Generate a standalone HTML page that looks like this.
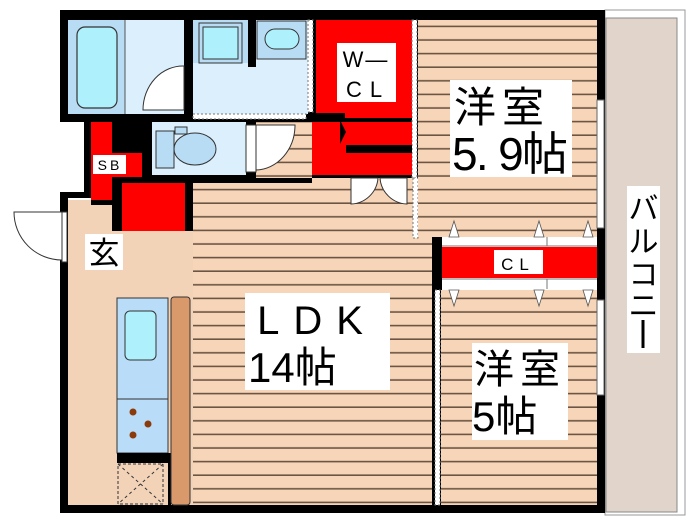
<!DOCTYPE html>
<html><head><meta charset="utf-8"><style>
html,body{margin:0;padding:0;background:#fff}
svg{display:block}
text{font-family:"Liberation Sans","Noto Sans CJK JP",sans-serif;fill:#000}
</style></head><body>
<svg width="700" height="525" viewBox="0 0 700 525" xmlns="http://www.w3.org/2000/svg">
<defs>
<pattern id="fl" x="0" y="0" width="10" height="13.6" patternUnits="userSpaceOnUse">
<rect width="10" height="13.6" fill="#f6d5b8"/>
<rect y="12" width="10" height="1.6" fill="#6d5543"/>
</pattern>
</defs>
<!-- balcony -->
<rect x="605" y="10" width="80" height="505" fill="#fff" stroke="#999" stroke-width="1"/>
<rect x="606" y="18" width="71" height="494" fill="#e0d4cb" stroke="#888" stroke-width="1"/>
<rect x="627" y="186" width="33" height="167" fill="#fff"/>
<text x="643.5" y="219" font-size="30" text-anchor="middle">バ</text>
<text x="643.5" y="252" font-size="30" text-anchor="middle">ル</text>
<text x="643.5" y="285" font-size="30" text-anchor="middle">コ</text>
<text x="643.5" y="316" font-size="30" text-anchor="middle">ニ</text>
<rect x="641.5" y="320" width="3" height="28" fill="#000"/>

<path d="M60 10 H605 V513 H60 Z" fill="#000"/>
<path d="M0 122 H91 V200 H0 Z" fill="#fff"/>
<path d="M84 122 H91 V198 H68 V205 H60 V192 H84 Z" fill="#000"/>

<!-- bath -->
<rect x="68" y="20" width="57" height="94" fill="#b9dcf5"/>
<rect x="77" y="27" width="40" height="81" rx="8" fill="#aef0fb" stroke="#333" stroke-width="1.2"/>
<rect x="125" y="20" width="59" height="94" fill="#dbeffd"/>
<line x1="125" y1="20" x2="125" y2="114" stroke="#555"/>
<path d="M184 66 A40 44 0 0 0 143 110 H184 Z" fill="#fff" stroke="#333"/>
<!-- washroom -->
<rect x="193" y="20" width="115" height="94" fill="#dbeffd"/>
<rect x="193" y="20" width="55" height="43" fill="#b9dcf5"/>
<rect x="199" y="23" width="43" height="40" fill="#b9dcf5" stroke="#333"/>
<rect x="203" y="27" width="35" height="32" fill="#aef0fb" stroke="#333"/>
<rect x="248" y="20" width="8" height="47" fill="#000"/>
<rect x="257" y="21" width="49" height="38" fill="#b9dcf5" stroke="#333"/>
<rect x="265" y="29" width="34" height="20" rx="10" fill="#aef0fb" stroke="#333"/>
<rect x="308" y="20" width="5" height="92" fill="#fff" stroke="#777" stroke-dasharray="2,2"/>
<rect x="193" y="114" width="113" height="5" fill="#fff" stroke="#777" stroke-dasharray="2,2"/>

<!-- W-CL -->
<rect x="316" y="20" width="96" height="93" fill="#f00"/>
<rect x="337" y="43" width="59" height="59" fill="#fff"/>
<text x="366" y="67" font-size="22" text-anchor="middle" letter-spacing="2">W—</text>
<text x="368" y="97" font-size="22" text-anchor="middle" letter-spacing="8">CL</text>
<rect x="412" y="20" width="5" height="158" fill="#fff" stroke="#777" stroke-dasharray="2,2"/>
<rect x="312" y="122" width="100" height="53" fill="#f00"/>
<rect x="345" y="112" width="67" height="6" fill="#f00"/>
<rect x="346" y="145" width="66" height="8" fill="#000"/>
<rect x="345" y="118" width="67" height="2" fill="#000"/>
<path d="M340 120 L346 132 L340 144 Z" fill="#000"/>
<!-- LDK floor -->
<rect x="256" y="122" width="56" height="56" fill="url(#fl)"/>
<rect x="193" y="183" width="239" height="322" fill="url(#fl)"/>
<rect x="312" y="178" width="100" height="10" fill="url(#fl)"/>
<rect x="412" y="178" width="20" height="59" fill="url(#fl)"/>
<path d="M351 178 V204 A28 28 0 0 0 378 178 Z" fill="#fff" stroke="#333"/>
<path d="M407 178 V204 A28 28 0 0 1 380 178 Z" fill="#fff" stroke="#333"/>
<rect x="413" y="178" width="5" height="60" fill="#fff" stroke="#777" stroke-dasharray="2,2"/>

<!-- toilet -->
<rect x="152" y="122" width="94" height="53" fill="#dbeffd"/>
<rect x="156" y="131" width="18" height="37" fill="#b9dcf5" stroke="#333"/>
<rect x="175" y="127" width="12" height="7" fill="#b9dcf5" stroke="#333"/>
<ellipse cx="195" cy="149" rx="21" ry="16" fill="#b9dcf5" stroke="#333"/>
<rect x="246" y="125" width="10" height="47" fill="#fff" stroke="#333"/>
<path d="M256 125 H295 A40 45 0 0 1 256 170 Z" fill="#fff" stroke="#333"/>

<!-- SB -->
<rect x="91" y="122" width="21" height="78" fill="#f00"/>
<rect x="112" y="153" width="30" height="24" fill="#f00"/>
<rect x="93" y="155" width="33" height="19" fill="#fff"/>
<text x="110" y="170" font-size="14" text-anchor="middle" letter-spacing="3">SB</text>
<rect x="122" y="183" width="63" height="48" fill="#f00"/>

<!-- genkan -->
<rect x="68" y="205" width="44" height="300" fill="#f2d3b8"/>
<rect x="112" y="231" width="81" height="274" fill="#f2d3b8"/>
<rect x="68" y="200" width="23" height="10" fill="#f2d3b8"/>
<rect x="62" y="212" width="5" height="50" fill="#fff" stroke="#333"/>
<path d="M62 212 H14 A48 48 0 0 0 62 260 Z" fill="#fff" stroke="#333"/>
<rect x="85" y="234" width="38" height="36" fill="#fff"/>
<text x="104" y="264" font-size="31" text-anchor="middle">玄</text>

<!-- kitchen -->
<rect x="117" y="298" width="51" height="155" fill="#b9dcf8" stroke="#333"/>
<rect x="125" y="311" width="31" height="49" rx="5" fill="#aef0fb" stroke="#333"/>
<line x1="117" y1="399" x2="168" y2="399" stroke="#333"/>
<circle cx="133" cy="412" r="3.5" fill="#8b3a0a"/>
<circle cx="148" cy="424" r="3.5" fill="#8b3a0a"/>
<circle cx="133" cy="435" r="3.5" fill="#8b3a0a"/>
<rect x="117" y="453" width="51" height="10" fill="#000"/>
<rect x="118" y="464" width="45" height="40" fill="#f2d3b8" stroke="#333" stroke-dasharray="3,2"/>
<line x1="118" y1="464" x2="163" y2="504" stroke="#333" stroke-dasharray="3,3"/>
<line x1="163" y1="464" x2="118" y2="504" stroke="#333" stroke-dasharray="3,3"/>
<rect x="168" y="453" width="3" height="52" fill="#000"/>
<rect x="171" y="297" width="19" height="208" rx="3" fill="#d9996a" stroke="#333"/>

<!-- LDK label -->
<rect x="245" y="293" width="145" height="97" fill="#fff"/>
<text x="317" y="334" font-size="40" text-anchor="middle" letter-spacing="14">LDK</text>
<text x="248" y="382" font-size="42">14帖</text>

<!-- western room 5.9 -->
<rect x="418" y="20" width="179" height="217" fill="url(#fl)"/>
<rect x="450" y="80" width="122" height="97" fill="#fff"/>
<text x="454" y="122" font-size="42" letter-spacing="6">洋室</text>
<text x="452" y="170" font-size="46" textLength="116" lengthAdjust="spacing">5. 9帖</text>

<!-- CL strip -->
<rect x="442" y="237" width="155" height="53" fill="#fff"/>
<rect x="442" y="247" width="155" height="31" fill="#f00"/>
<line x1="442" y1="246" x2="597" y2="246" stroke="#777"/>
<line x1="442" y1="279" x2="597" y2="279" stroke="#777"/>
<line x1="547" y1="237" x2="547" y2="246" stroke="#777"/>
<line x1="547" y1="279" x2="547" y2="289" stroke="#777"/>
<rect x="494" y="250" width="49" height="24" fill="#fff"/>
<text x="518" y="270" font-size="17" text-anchor="middle" letter-spacing="6">CL</text>
<g fill="#fff" stroke="#555" stroke-width="0.8">
<path d="M449 237 L454 221 L459 237 Z"/><path d="M534 237 L539 221 L544 237 Z"/><path d="M583 237 L588 221 L593 237 Z"/>
</g>

<!-- room 5 -->
<rect x="441" y="290" width="156" height="215" fill="url(#fl)"/>
<g fill="#fff" stroke="#555" stroke-width="0.8">
<path d="M449 290 L454 306 L459 290 Z"/><path d="M534 290 L539 306 L544 290 Z"/><path d="M583 290 L588 306 L593 290 Z"/>
</g>
<rect x="472" y="343" width="96" height="97" fill="#fff"/>
<text x="474" y="383" font-size="40" letter-spacing="6">洋室</text>
<text x="472" y="431" font-size="42">5帖</text>
<rect x="435" y="290" width="5" height="215" fill="#fff" stroke="#777" stroke-dasharray="2,2"/>

<!-- right windows -->
<rect x="597" y="100" width="7" height="128" fill="#fff" stroke="#666"/>
<rect x="597" y="300" width="7" height="95" fill="#fff" stroke="#666"/>
</svg>
</body></html>
